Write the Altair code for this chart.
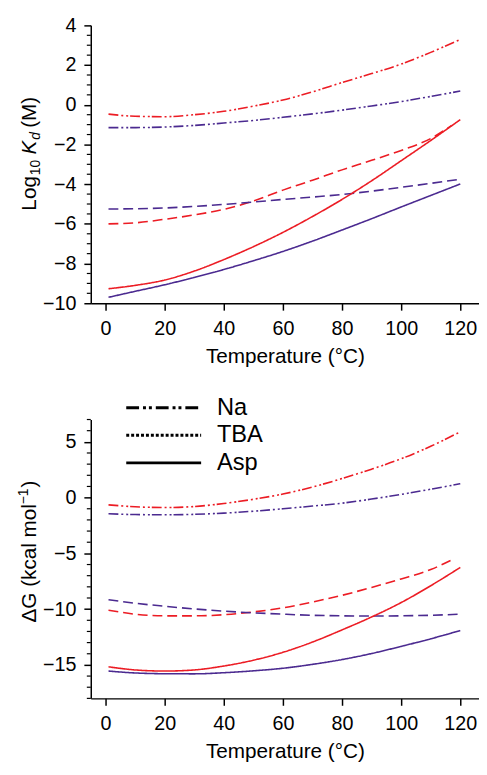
import altair as alt
import pandas as pd

RED = "#ec1c24"
PURPLE = "#4b2a90"
FONT = "Liberation Sans"

# Temperatures (°C)
T = [1, 10, 20, 30, 40, 50, 60, 70, 80, 90, 100, 110, 120]
T_TBA_RED = [1, 10, 20, 30, 40, 50, 60, 70, 80, 90, 100, 110, 117]

# Top panel: Log10 Kd (M)
kd_na_red = [-0.47, -0.58, -0.60, -0.50, -0.33, -0.07, 0.24, 0.65, 1.12, 1.57, 2.05, 2.64, 3.29]
kd_na_purple = [-1.15, -1.15, -1.12, -1.04, -0.92, -0.79, -0.63, -0.46, -0.27, -0.06, 0.16, 0.42, 0.69]
kd_tba_red = [-6.00, -5.95, -5.77, -5.55, -5.27, -4.85, -4.30, -3.80, -3.28, -2.80, -2.30, -1.70, -1.05]
kd_tba_purple = [-5.25, -5.24, -5.20, -5.12, -5.02, -4.90, -4.77, -4.65, -4.52, -4.35, -4.16, -3.96, -3.75]
kd_asp_red = [-9.27, -9.10, -8.83, -8.38, -7.80, -7.15, -6.43, -5.63, -4.77, -3.83, -2.82, -1.80, -0.75]
kd_asp_purple = [-9.70, -9.40, -9.07, -8.70, -8.30, -7.86, -7.39, -6.87, -6.31, -5.74, -5.15, -4.57, -3.99]

# Bottom panel: ΔG (kcal/mol)
dg_na_red = [-0.65, -0.82, -0.89, -0.80, -0.53, -0.15, 0.32, 0.95, 1.71, 2.55, 3.48, 4.60, 5.90]
dg_na_purple = [-1.45, -1.52, -1.54, -1.50, -1.39, -1.22, -1.00, -0.76, -0.50, -0.13, 0.29, 0.75, 1.24]
dg_tba_red = [-10.09, -10.45, -10.60, -10.60, -10.50, -10.25, -9.88, -9.36, -8.76, -8.05, -7.29, -6.45, -5.60]
dg_tba_purple = [-9.15, -9.47, -9.74, -9.98, -10.18, -10.33, -10.45, -10.55, -10.60, -10.62, -10.60, -10.55, -10.45]
dg_asp_red = [-15.17, -15.45, -15.55, -15.45, -15.10, -14.58, -13.87, -12.95, -11.86, -10.70, -9.41, -7.90, -6.26]
dg_asp_purple = [-15.55, -15.72, -15.79, -15.80, -15.70, -15.53, -15.30, -14.95, -14.52, -13.98, -13.34, -12.66, -11.92]

LIGANDS = ["Na", "TBA", "Asp"]
X_TICKS = [0, 20, 40, 60, 80, 100, 120]
KD_TICKS = [-10, -8, -6, -4, -2, 0, 2, 4]
KD_MINOR = [v / 2 for v in range(-20, 9) if v % 4 != 0]
DG_TICKS = [-15, -10, -5, 0, 5]
DG_MINOR = [v for v in range(-18, 8) if v % 5 != 0]


def frame(series):
    rows = []
    for ligand, model, temps, vals in series:
        for t, v in zip(temps, vals):
            rows.append({"T": t, "value": v, "ligand": ligand, "model": model})
    return pd.DataFrame(rows)


kd_df = frame([
    ("Na", "red", T, kd_na_red), ("Na", "purple", T, kd_na_purple),
    ("TBA", "red", T_TBA_RED, kd_tba_red), ("TBA", "purple", T, kd_tba_purple),
    ("Asp", "red", T, kd_asp_red), ("Asp", "purple", T, kd_asp_purple),
])
dg_df = frame([
    ("Na", "red", T, dg_na_red), ("Na", "purple", T, dg_na_purple),
    ("TBA", "red", T_TBA_RED, dg_tba_red), ("TBA", "purple", T, dg_tba_purple),
    ("Asp", "red", T, dg_asp_red), ("Asp", "purple", T, dg_asp_purple),
])

W = 394
XDOM = [-5, -5 + W / 3]

x_enc = alt.X("T:Q", scale=alt.Scale(domain=XDOM, nice=False, zero=False),
              axis=alt.Axis(values=X_TICKS, title="Temperature (°C)", format="d"))
color_enc = alt.Color("model:N", scale=alt.Scale(domain=["red", "purple"], range=[RED, PURPLE]), legend=None)
dash_enc = alt.StrokeDash("ligand:N", scale=alt.Scale(domain=LIGANDS,
                          range=[[10, 3, 2, 3, 2, 2], [10, 5], [1, 0]]), legend=None)


def line_layer(df, yscale, yticks):
    return alt.Chart(df).mark_line(strokeWidth=1.6, interpolate="monotone").encode(
        x=x_enc,
        y=alt.Y("value:Q", scale=yscale, axis=alt.Axis(values=yticks, title=None)),
        color=color_enc,
        strokeDash=dash_enc,
        detail="model:N",
    )


def minor_layer(vals, yscale):
    return alt.Chart(pd.DataFrame({"value": vals})).mark_rule(color="black", strokeWidth=1.2).encode(
        y=alt.Y("value:Q", scale=yscale, axis=None),
        x=alt.value(-4), x2=alt.value(0),
    )


def text_piece(txt, x, y, size=21, italic=False):
    return alt.Chart(pd.DataFrame({"a": [0]})).mark_text(
        text=txt, font=FONT, fontSize=size, angle=270, align="left", baseline="alphabetic",
        fontStyle="italic" if italic else "normal", color="black",
    ).encode(x=alt.value(x), y=alt.value(y))


# ---- top panel ----
kd_scale = alt.Scale(domain=[-10, 4], nice=False, zero=False)
TX = -56
top = alt.layer(
    line_layer(kd_df, kd_scale, KD_TICKS),
    minor_layer(KD_MINOR, kd_scale),
    text_piece("Log", TX, 188),
    text_piece("10", TX + 4, 152, size=14),
    text_piece("K", TX, 131, italic=True),
    text_piece("d", TX + 4, 116, size=14, italic=True),
    text_piece("(M)", TX, 104),
).resolve_scale(y="independent").properties(width=W, height=282)

# ---- bottom panel ----
dg_scale = alt.Scale(domain=[-18, 7], nice=False, zero=False)
legend_df = pd.DataFrame({"label": LIGANDS})
legend_y = alt.Y("label:N", scale=alt.Scale(type="point", domain=LIGANDS, range=[-12, 44], padding=0), axis=None)
legend_rules = alt.Chart(legend_df).mark_rule(color="black", strokeWidth=3).encode(
    y=legend_y, x=alt.value(36), x2=alt.value(112),
    strokeDash=alt.StrokeDash("label:N", scale=alt.Scale(domain=LIGANDS,
                              range=[[13, 4, 3, 3, 3, 4], [3, 2], [1, 0]]), legend=None),
)
legend_text = alt.Chart(legend_df).mark_text(font=FONT, fontSize=24, align="left", baseline="middle",
                                             color="black").encode(
    y=legend_y, x=alt.value(128), text="label:N")

bottom = alt.layer(
    line_layer(dg_df, dg_scale, DG_TICKS),
    minor_layer(DG_MINOR, dg_scale),
    legend_rules,
    legend_text,
    text_piece("ΔG (kcal mol", TX, 206),
    text_piece("−1", TX - 8, 86, size=14),
    text_piece(")", TX, 69),
).resolve_scale(y="independent", strokeDash="independent").properties(width=W, height=283)

chart = alt.vconcat(top, bottom, spacing=30).properties(
    padding={"left": 9, "top": 2, "right": 0, "bottom": 0}
).configure_view(stroke=None).configure_axis(
    labelFont=FONT, titleFont=FONT, labelFontSize=20, titleFontSize=21,
    titleFontWeight="normal", labelColor="black", titleColor="black",
    domainColor="black", tickColor="black", domainWidth=1.5, tickWidth=1.5,
    tickSize=7, grid=False, labelPadding=8, titlePadding=7,
).configure_axisX(labelPadding=9)

chart.save("out.html", embed_options={"renderer": "svg", "actions": False})
